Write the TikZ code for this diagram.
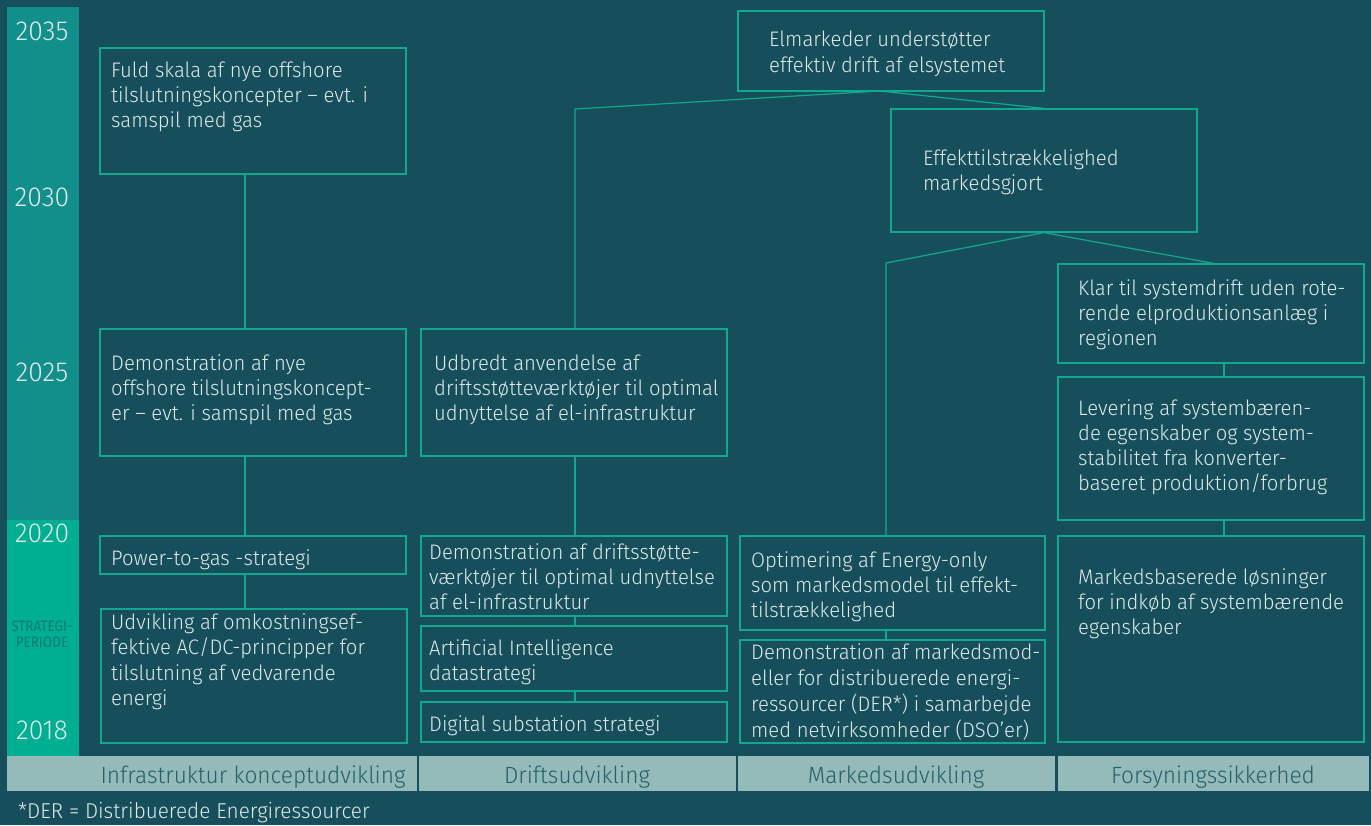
\documentclass[tikz,border=0pt]{standalone}
\usepackage{fontspec}
\setmainfont{Fira Sans}[UprightFont={* Light}, FakeStretch=0.965]
\newfontfamily\regfont{Fira Sans}[FakeStretch=0.9]
\usetikzlibrary{fit}
\definecolor{bg}{HTML}{164F5B}
\definecolor{barA}{HTML}{128F8A}
\definecolor{barB}{HTML}{00AE92}
\definecolor{edge}{HTML}{12A78F}
\definecolor{txt}{HTML}{DCEAEA}
\definecolor{band}{HTML}{94BAB9}
\definecolor{bandtxt}{HTML}{25606B}
\definecolor{strat}{HTML}{0E7A75}
\newcommand{\mltext}[1]{\begin{tabular}[t]{@{}l@{}}#1\end{tabular}}
\begin{document}
\begin{tikzpicture}[x=1pt,y=-1pt,
  bx/.style={draw=edge, line width=1.2pt, inner sep=0pt},
  con/.style={draw=edge, line width=1.2pt},
  bandbox/.style={fill=band, inner sep=0pt},
  bodytext/.style={anchor=base west, inner sep=0pt, text=txt, font=\fontsize{21}{25}\selectfont},
  yeartext/.style={anchor=base, inner sep=0pt, text=txt, font=\fontsize{27.5}{30}\selectfont},
  bandtext/.style={anchor=base, inner sep=0pt, text=bandtxt, font=\fontsize{23.5}{26}\selectfont}]
\fill[bg] (0,0) rectangle (1371,825);
\useasboundingbox (0,0) rectangle (1371,825);
% left time bar
\fill[barA] (7,7) rectangle (79,520);
\fill[barB] (7,520) rectangle (79,756);
\node[yeartext] (y35) at (42,40) {2035};
\node[yeartext] (y30) at (42,206) {2030};
\node[yeartext] (y25) at (42,381) {2025};
\node[yeartext] (y20) at (42,542) {2020};
\node[yeartext] (y18) at (42,739) {2018};
\node[anchor=base, inner sep=0pt, text=strat, font=\regfont\fontsize{15}{16.5}\selectfont] (sp) at (42,631) {\begin{tabular}[t]{@{}c@{}}STRATEGI-\\PERIODE\end{tabular}};
% bottom bands
\node[bandbox, fit={(7,756) (417,791)}] (b1) {};
\node[bandbox, fit={(419,756) (736,791)}] (b2) {};
\node[bandbox, fit={(738,756) (1055,791)}] (b3) {};
\node[bandbox, fit={(1058,756) (1369,791)}] (b4) {};
\node[bandtext] (b1t) at (253,783) {Infrastruktur konceptudvikling};
\node[bandtext] (b2t) at (577,783) {Driftsudvikling};
\node[bandtext] (b3t) at (896,783) {Markedsudvikling};
\node[bandtext] (b4t) at (1213,783) {Forsyningssikkerhed};
\node[anchor=base west, inner sep=0pt, text=txt, font=\fontsize{21.5}{24}\selectfont] (fn) at (18,818.5) {*DER = Distribuerede Energiressourcer};
% boxes
\node[bx, fit={(100,48) (406,174)}] (A1) {};
\node[bx, fit={(100,329) (406,456)}] (A2) {};
\node[bx, fit={(100,536) (406,574)}] (A3) {};
\node[bx, fit={(101,609) (407,743)}] (A4) {};
\node[bx, fit={(421,329) (727,456)}] (B1) {};
\node[bx, fit={(421,536) (727,616)}] (B2) {};
\node[bx, fit={(421,626) (727,691)}] (B3) {};
\node[bx, fit={(421,702) (727,742)}] (B4) {};
\node[bx, fit={(738,11) (1044,91)}] (C0) {};
\node[bx, fit={(891,109) (1197,232)}] (C1) {};
\node[bx, fit={(740,536) (1045,630)}] (D1) {};
\node[bx, fit={(740,640) (1045,743)}] (D2) {};
\node[bx, fit={(1058,264) (1364,363)}] (E1) {};
\node[bx, fit={(1058,377) (1364,520)}] (E2) {};
\node[bx, fit={(1058,536) (1364,742)}] (E3) {};
% texts
\node[bodytext] (A1t) at (111,77) {\mltext{Fuld skala af nye offshore\\tilslutningskoncepter – evt. i\\samspil med gas}};
\node[bodytext] (A2t) at (111,370) {\mltext{Demonstration af nye\\offshore tilslutningskoncept-\\er – evt. i samspil med gas}};
\node[bodytext] (A3t) at (111,565) {Power-to-gas -strategi};
\node[bodytext, font=\fontsize{21}{25.5}\selectfont] (A4t) at (111,629) {\mltext{Udvikling af omkostningsef-\\fektive AC/DC-principper for\\tilslutning af vedvarende\\energi}};
\node[bodytext] (B1t) at (434,370) {\mltext{Udbredt anvendelse af\\driftsstøtteværktøjer til optimal\\udnyttelse af el-infrastruktur}};
\node[bodytext] (B2t) at (429,559) {\mltext{Demonstration af driftsstøtte-\\værktøjer til optimal udnyttelse\\af el-infrastruktur}};
\node[bodytext] (B3t) at (429,655) {\mltext{Artificial Intelligence\\datastrategi}};
\node[bodytext] (B4t) at (429,731) {Digital substation strategi};
\node[bodytext, font=\fontsize{21}{26}\selectfont] (C0t) at (769,46) {\mltext{Elmarkeder understøtter\\effektiv drift af elsystemet}};
\node[bodytext] (C1t) at (923,165) {\mltext{Effekttilstrækkelighed\\markedsgjort}};
\node[bodytext] (D1t) at (751,567) {\mltext{Optimering af Energy-only\\som markedsmodel til effekt-\\tilstrækkelighed}};
\node[bodytext, font=\fontsize{21}{26}\selectfont] (D2t) at (751,659) {\mltext{Demonstration af markedsmod-\\eller for distribuerede energi-\\ressourcer (DER*) i samarbejde\\med netvirksomheder (DSO'er)}};
\node[bodytext] (E1t) at (1078,295) {\mltext{Klar til systemdrift uden rote-\\rende elproduktionsanlæg i\\regionen}};
\node[bodytext, font=\fontsize{21}{25.3}\selectfont] (E2t) at (1078,415) {\mltext{Levering af systembæren-\\de egenskaber og system-\\stabilitet fra konverter-\\baseret produktion/forbrug}};
\node[bodytext] (E3t) at (1078,584) {\mltext{Markedsbaserede løsninger\\for indkøb af systembærende\\egenskaber}};
% connector helper coordinates
\coordinate (ax) at (245,0);
\coordinate (bturn) at (575,109);
\coordinate (cj) at (880,91);
\coordinate (dturn) at (886,263);
\coordinate (ej) at (1217,264);
\coordinate (ex) at (1224,0);
% connectors
\draw[con] (A1.south -| ax) -- (A2.north -| ax);
\draw[con] (A2.south -| ax) -- (A3.north -| ax);
\draw[con] (A3.south -| ax) -- (A4.north -| ax);
\draw[con] (B1.north -| bturn) -- (bturn) -- (cj);
\draw[con] (B1.south -| bturn) -- (B2.north -| bturn);
\draw[con] (B2.south -| bturn) -- (B3.north -| bturn);
\draw[con] (B3.south -| bturn) -- (B4.north -| bturn);
\draw[con] (cj) -- (C1.north);
\draw[con] (C1.south) -- (dturn) -- (D1.north -| dturn);
\draw[con] (D1.south -| dturn) -- (D2.north -| dturn);
\draw[con] (C1.south) -- (ej);
\draw[con] (E1.south -| ex) -- (E2.north -| ex);
\draw[con] (E2.south -| ex) -- (E3.north -| ex);
\end{tikzpicture}
\end{document}
